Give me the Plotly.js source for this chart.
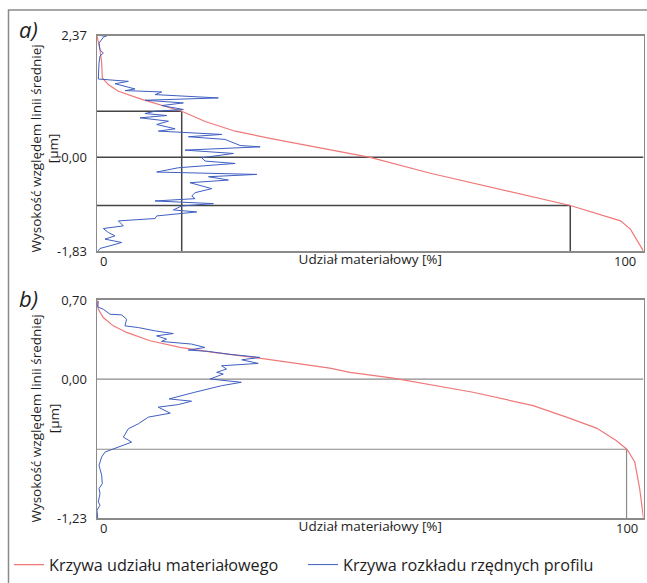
<!DOCTYPE html>
<html><head><meta charset="utf-8">
<script src="https://cdn.plot.ly/plotly-3.0.1.min.js"></script>
<style>html,body{margin:0;padding:0;background:#fff;} #chart{width:647px;height:583px;}</style>
</head><body><div id="chart"></div>
<script>
// ---- Panel a) data ----
const redA_x = [0,0.55,0.86,0.97,2.07,3.9,8.2,13.7,15.5,19.8,25.3,32.6,42.7,50,61,73.8,84.8,86.6,95.8,97.6,100];
const redA_y = [2.37,2.1,1.84,1.55,1.42,1.29,1.13,0.96,0.9,0.70,0.51,0.35,0.15,0,-0.31,-0.62,-0.90,-0.94,-1.24,-1.40,-1.83];
const blueA_x = [0.85,1.77,1.16,0.37,0.55,1.16,0.55,0.37,0.24,5.74,3.3,6.96,5.13,11.85,10.62,22.2,8.79,15.8,11.85,15.8,10.62,8.79,12.76,7.87,13.07,10.93,14.29,11.23,22.83,16.73,23.44,25.27,26.2,29.85,16.1,24.97,19.17,19.78,25.27,14.9,10.93,29.24,20.4,24.05,17.03,21.0,17.95,17.34,17.95,10.62,21.31,15.5,13.98,18.25,10.93,10.62,3.91,4.82,1.16,2.08,3.3,1.47,4.52,2.38,0.55,0.24];
const blueA_y = [2.37,2.37,2.344,2.227,2.098,2.033,1.981,1.839,1.528,1.483,1.437,1.334,1.302,1.276,1.224,1.159,1.114,1.062,1.01,0.933,0.9,0.855,0.816,0.771,0.706,0.641,0.557,0.512,0.447,0.402,0.35,0.272,0.231,0.205,0.141,0.076,-0.008,-0.073,-0.119,-0.203,-0.287,-0.333,-0.378,-0.443,-0.495,-0.611,-0.689,-0.754,-0.806,-0.851,-0.903,-0.948,-1.026,-1.065,-1.143,-1.194,-1.24,-1.337,-1.389,-1.467,-1.531,-1.596,-1.661,-1.726,-1.778,-1.823];
const rangeA = [-1.83, 2.37];
const yTicksA = [-1.83, 0, 2.37];
const yLabelsA = ['-1,83', '0,00', '2,37'];
const markA_pct = [15.5, 86.6];
const markA_h = [0.90, -0.94];

// ---- Panel b) data ----
const redB_x = [0,0.24,1.15,2.98,5.43,9.7,15.2,21.3,28.6,35.3,42.6,46.3,54.2,68.8,79.8,85.9,91.4,95.0,97.0,98.4,99.3,100];
const redB_y = [0.70,0.618,0.545,0.471,0.413,0.339,0.281,0.237,0.193,0.148,0.098,0.06,0.008,-0.116,-0.234,-0.336,-0.433,-0.542,-0.622,-0.733,-0.968,-1.23];
const blueB_x = [0.24,0.12,1.16,2.38,4.5,5.42,5.12,7.56,10.6,13.96,10.9,12.73,11.8,17.3,19.75,16.7,20.4,24.0,29.8,26.5,29.5,22.8,23.7,21.9,23.1,20.7,26.4,22.8,17.9,13.2,17.3,14.9,11.2,13.4,9.4,7.56,5.73,4.82,6.34,3.9,1.46,0.85,0.37,0.85,0.97,0.37,0.55,0.24,0.55,0,0.12];
const blueB_y = [0.69,0.638,0.618,0.574,0.568,0.53,0.471,0.456,0.427,0.403,0.383,0.354,0.333,0.31,0.28,0.257,0.245,0.221,0.192,0.171,0.139,0.118,0.089,0.06,0.045,0.001,-0.028,-0.058,-0.116,-0.175,-0.195,-0.225,-0.248,-0.301,-0.336,-0.395,-0.439,-0.513,-0.557,-0.6,-0.645,-0.689,-0.762,-0.85,-0.924,-0.968,-1.012,-1.085,-1.115,-1.159,-1.23];
const rangeB = [-1.23, 0.70];
const yTicksB = [-1.23, 0, 0.70];
const yLabelsB = ['-1,23', '0,00', '0,70'];
const markB_pct = [96.9];
const markB_h = [-0.62];

const xTickLabels = ['0', '100'];
const xTitle = 'Udział materiałowy [%]';
const yTitle = 'Wysokość względem linii średniej<br>[µm]';
const nameRed = 'Krzywa udziału materiałowego';
const nameBlue = 'Krzywa rozkładu rzędnych profilu';

// ---- layout helpers ----
const W = 647, H = 583;
const FONT = 'Open Sans, DejaVu Sans, sans-serif';
const TXT = '#1e1e1e';
const RED = '#f07878', BLUE = '#3f5fc0';

const traces = [
  {x: redA_x, y: redA_y, xaxis: 'x', yaxis: 'y', mode: 'lines', name: nameRed, line: {color: RED, width: 1.2}, showlegend: true},
  {x: blueA_x, y: blueA_y, xaxis: 'x', yaxis: 'y', mode: 'lines', name: nameBlue, line: {color: BLUE, width: 1}, showlegend: true},
  {x: redB_x, y: redB_y, xaxis: 'x2', yaxis: 'y2', mode: 'lines', name: nameRed, line: {color: RED, width: 1.2}, showlegend: false},
  {x: blueB_x, y: blueB_y, xaxis: 'x2', yaxis: 'y2', mode: 'lines', name: nameBlue, line: {color: BLUE, width: 1}, showlegend: false}
];

function markShapes(xr, yr, pcts, hs, ymin, color, width) {
  const s = [{type: 'line', xref: xr, yref: yr, x0: 0, x1: 100, y0: 0, y1: 0, layer: 'below', line: {color: color, width: width}}];
  pcts.forEach((p, i) => {
    s.push({type: 'line', xref: xr, yref: yr, x0: 0, x1: p, y0: hs[i], y1: hs[i], layer: 'below', line: {color: color, width: width}});
    s.push({type: 'line', xref: xr, yref: yr, x0: p, x1: p, y0: hs[i], y1: ymin, layer: 'below', line: {color: color, width: width}});
  });
  return s;
}

const shapes = [].concat(
  markShapes('x', 'y', markA_pct, markA_h, rangeA[0], '#454545', 1.5),
  markShapes('x2', 'y2', markB_pct, markB_h, rangeB[0], '#8a8a8a', 1.2),
  [{type: 'rect', xref: 'paper', yref: 'paper', x0: 8.5 / W, x1: 1.01, y0: -0.02, y1: 1 - 10 / H, line: {color: '#8a8a8a', width: 1.5}, fillcolor: 'rgba(0,0,0,0)'}]
);

function xAxis(domain, anchor) {
  return {domain: domain, anchor: anchor, range: [0, 100], showgrid: false, zeroline: false,
    showline: true, mirror: true, linecolor: '#8a8a8a', linewidth: 1.5, ticks: '', showticklabels: false,
    automargin: false, fixedrange: true,
    title: {text: xTitle, standoff: 3, font: {family: FONT, size: 13.5, color: TXT}}};
}
function yAxis(domain, anchor, range, tv, tt) {
  return {domain: domain, anchor: anchor, range: range, showgrid: false, zeroline: false,
    showline: true, mirror: true, linecolor: '#8a8a8a', linewidth: 1.5,
    ticks: 'outside', ticklen: 6, tickcolor: 'rgba(0,0,0,0)', tickvals: tv, ticktext: tt,
    tickfont: {family: FONT, size: 13, color: TXT}, automargin: false, fixedrange: true};
}
function yTitleAnn(yPx) {
  return {xref: 'paper', yref: 'paper', x: 45 / W, y: 1 - yPx / H, text: yTitle, textangle: -90,
    showarrow: false, xanchor: 'center', yanchor: 'middle', align: 'center',
    font: {family: FONT, size: 13.5, color: TXT}};
}

const xDom = [97 / W, 643.5 / W];
const layout = {
  width: W, height: H,
  margin: {l: 0, r: 0, t: 0, b: 0},
  paper_bgcolor: '#fff', plot_bgcolor: '#fff',
  font: {family: FONT, color: TXT},
  xaxis: xAxis(xDom, 'y'),
  yaxis: yAxis([1 - 252 / H, 1 - 36 / H], 'x', rangeA, yTicksA, yLabelsA),
  xaxis2: xAxis(xDom, 'y2'),
  yaxis2: yAxis([1 - 520 / H, 1 - 301 / H], 'x2', rangeB, yTicksB, yLabelsB),
  shapes: shapes,
  showlegend: true,
  legend: {orientation: 'h', x: 9 / W, xanchor: 'left', y: 1 - 567 / H, yanchor: 'middle',
    entrywidth: 249, entrywidthmode: 'pixels',
    font: {family: FONT, size: 16.2, color: TXT}, bgcolor: 'rgba(0,0,0,0)', traceorder: 'normal'},
  annotations: [
    yTitleAnn(149),
    yTitleAnn(420),
    {xref: 'paper', yref: 'paper', x: 28 / W, y: 1 - 29 / H, text: '<i>a)</i>', showarrow: false, xanchor: 'center', yanchor: 'middle', font: {family: FONT, size: 22, color: TXT}},
    {xref: 'paper', yref: 'paper', x: 28 / W, y: 1 - 299 / H, text: '<i>b)</i>', showarrow: false, xanchor: 'center', yanchor: 'middle', font: {family: FONT, size: 22, color: TXT}},
    {xref: 'x', yref: 'y', x: 0, y: rangeA[0], yshift: -10, xshift: 6, text: xTickLabels[0], showarrow: false, yanchor: 'middle', font: {family: FONT, size: 13, color: TXT}},
    {xref: 'x', yref: 'y', x: 100, y: rangeA[0], yshift: -10, xshift: -19, text: xTickLabels[1], showarrow: false, yanchor: 'middle', font: {family: FONT, size: 13, color: TXT}},
    {xref: 'x2', yref: 'y2', x: 0, y: rangeB[0], yshift: -10, xshift: 6, text: xTickLabels[0], showarrow: false, yanchor: 'middle', font: {family: FONT, size: 13, color: TXT}},
    {xref: 'x2', yref: 'y2', x: 100, y: rangeB[0], yshift: -10, xshift: -17, text: xTickLabels[1], showarrow: false, yanchor: 'middle', font: {family: FONT, size: 13, color: TXT}}
  ]
};

Plotly.newPlot('chart', traces, layout, {displayModeBar: false, staticPlot: true});
</script></body></html>
